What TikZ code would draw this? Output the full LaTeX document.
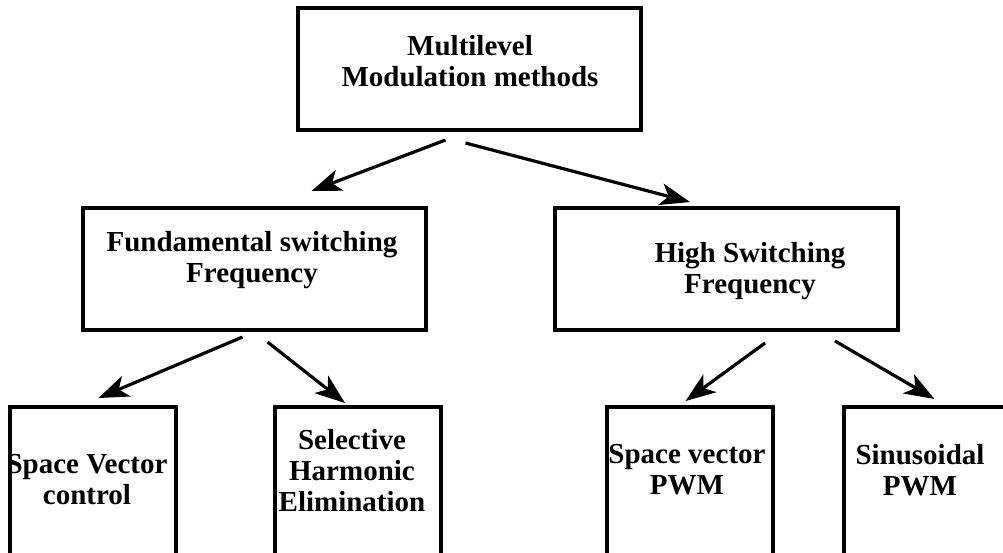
\documentclass[tikz,border=0pt]{standalone}
\usepackage{fontspec}
\setmainfont{Liberation Serif}
\usetikzlibrary{arrows.meta}
\tikzset{
box/.style={draw,line width=4pt,inner sep=0pt},
bigbox/.style={box,minimum width=343pt,minimum height=122pt},
smallbox/.style={box,minimum width=166pt,minimum height=180pt},
txt/.style={align=center,inner sep=0pt,font=\bfseries\fontsize{29}{31}\selectfont},
arrow/.style={-{Stealth[length=30pt,width=22pt,inset=8pt]},line width=3.2pt}
}

\begin{document}
\begin{tikzpicture}[x=1pt,y=-1pt]
\useasboundingbox (0,0) rectangle (1003,552);
\clip (0,0) rectangle (1003,552);

% boxes
\node[bigbox] (top) at (469.5,69) {};
\node[bigbox] (fund) at (254.5,269) {};
\node[bigbox] (high) at (726,269) {};
\node[smallbox] (svc) at (92.5,497) {};
\node[smallbox] (she) at (358,497) {};
\node[smallbox] (svpwm) at (689.5,497) {};
\node[smallbox] (spwm) at (926.5,497) {};

% texts
\node[txt] (top-t) at (470,61) {Multilevel\\Modulation methods};
\node[txt] (fund-t) at (252,260) {Fundamental switching\\Frequency};
\node[txt] (high-t) at (750,271) {High Switching\\Frequency};
\node[txt] (svc-t) at (87,480) {Space Vector\\control};
\node[txt] (she-t) at (352,471) {Selective\\Harmonic\\Elimination};
\node[txt] (svpwm-t) at (687,470) {Space vector\\PWM};
\node[txt] (spwm-t) at (920,470) {Sinusoidal\\PWM};

% arrows
\draw[arrow] ([shift={(-24,8)}]top.south) -- ([shift={(57,-15)}]fund.north);
\draw[arrow] ([shift={(-4,11)}]top.south) -- ([shift={(-36,-4)}]high.north);
\draw[arrow] ([shift={(-12,5)}]fund.south) -- ([shift={(6,-7)}]svc.north);
\draw[arrow] ([shift={(13,10)}]fund.south) -- ([shift={(-13,-2)}]she.north);
\draw[arrow] ([shift={(39,11)}]high.south) -- ([shift={(-4,-4)}]svpwm.north);
\draw[arrow] ([shift={(109,9)}]high.south) -- ([shift={(8,-6)}]spwm.north);
\end{tikzpicture}
\end{document}
